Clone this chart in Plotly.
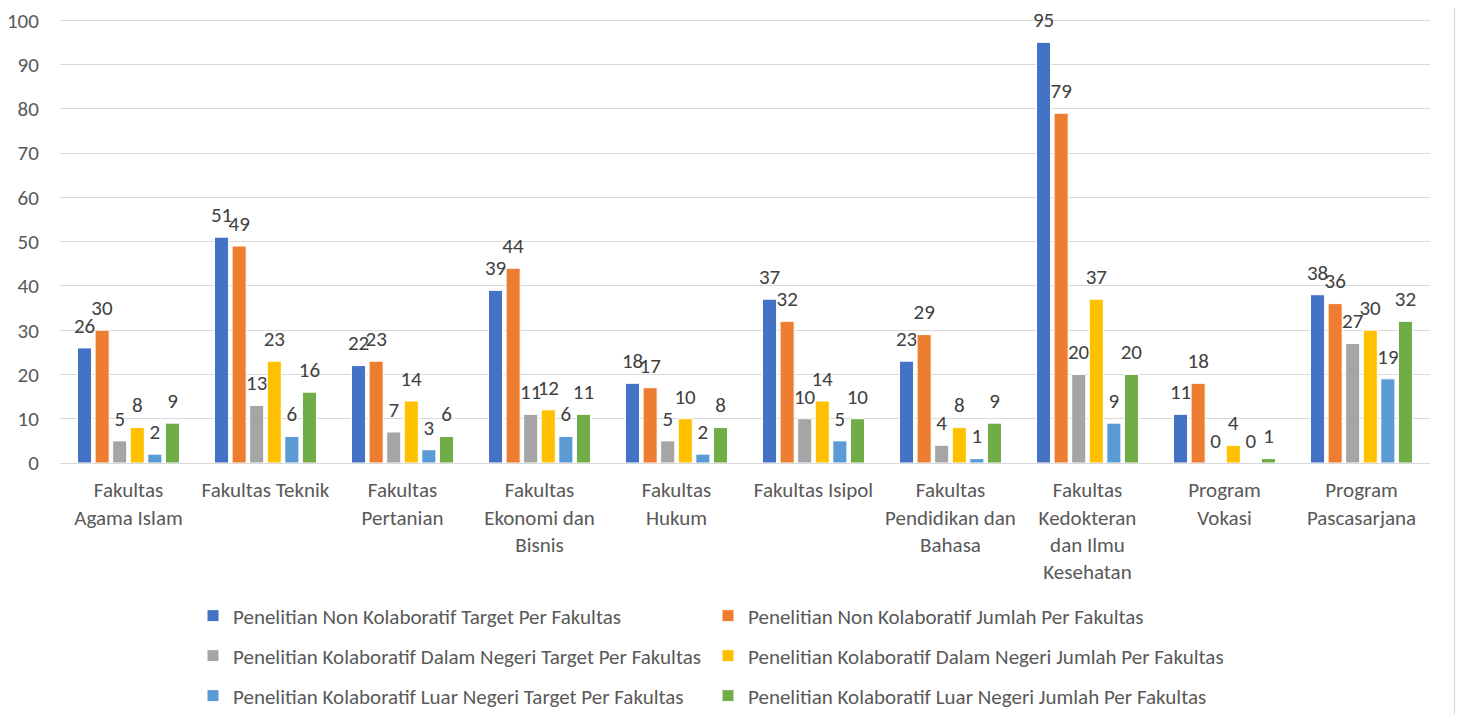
import plotly.graph_objects as go

categories = [
    "Fakultas<br>Agama Islam", "Fakultas Teknik", "Fakultas<br>Pertanian",
    "Fakultas<br>Ekonomi dan<br>Bisnis", "Fakultas<br>Hukum", "Fakultas Isipol",
    "Fakultas<br>Pendidikan dan<br>Bahasa", "Fakultas<br>Kedokteran<br>dan Ilmu<br>Kesehatan",
    "Program<br>Vokasi", "Program<br>Pascasarjana",
]

non_kolab_target = [26, 51, 22, 39, 18, 37, 23, 95, 11, 38]
non_kolab_jumlah = [30, 49, 23, 44, 17, 32, 29, 79, 18, 36]
dn_target = [5, 13, 7, 11, 5, 10, 4, 20, 0, 27]
dn_jumlah = [8, 23, 14, 12, 10, 14, 8, 37, 4, 30]
ln_target = [2, 6, 3, 6, 2, 5, 1, 9, 0, 19]
ln_jumlah = [9, 16, 6, 11, 8, 10, 9, 20, 1, 32]

series = [
    ("Penelitian Non Kolaboratif Target Per Fakultas", non_kolab_target, "#4472C4"),
    ("Penelitian Non Kolaboratif Jumlah Per Fakultas", non_kolab_jumlah, "#ED7D31"),
    ("Penelitian Kolaboratif Dalam Negeri Target Per Fakultas", dn_target, "#A5A5A5"),
    ("Penelitian Kolaboratif Dalam Negeri Jumlah Per Fakultas", dn_jumlah, "#FFC000"),
    ("Penelitian Kolaboratif Luar Negeri Target Per Fakultas", ln_target, "#5B9BD5"),
    ("Penelitian Kolaboratif Luar Negeri Jumlah Per Fakultas", ln_jumlah, "#70AD47"),
]

FONT = "Carlito, Calibri, Liberation Sans, sans-serif"
FS = 21
LABEL_GAP = 1.4  # extra space (in axis units) between bar end and its label

fig = go.Figure()
legend_ids = ["legend", "legend", "legend2", "legend2", "legend3", "legend3"]
for i, ((name, vals, color), lg) in enumerate(zip(series, legend_ids)):
    fig.add_trace(go.Bar(
        x=categories, y=vals, name=name, legend=lg, offsetgroup=str(i),
        marker=dict(color=color, line=dict(color="white", width=1)),
    ))
    # invisible bar sitting on top of each bar, only to carry the data label
    fig.add_trace(go.Bar(
        x=categories, y=[LABEL_GAP] * len(vals), base=vals, offsetgroup=str(i),
        marker=dict(color="rgba(0,0,0,0)", line=dict(width=0)),
        text=vals, textposition="outside", constraintext="none",
        textfont=dict(size=FS, color="#404040", family=FONT),
        cliponaxis=False, showlegend=False, hoverinfo="skip",
    ))

def legend_at(ypix):
    return dict(
        orientation="h", xref="container", yref="container",
        x=185 / 1463, xanchor="left", y=1 - ypix / 715, yanchor="middle",
        entrywidth=470, entrywidthmode="pixels",
        font=dict(size=FS, color="#595959", family=FONT), itemwidth=30,
        bgcolor="rgba(0,0,0,0)",
    )

fig.update_layout(
    width=1463, height=715,
    margin=dict(l=52, r=41, t=10, b=260, autoexpand=False),
    paper_bgcolor="white", plot_bgcolor="white",
    barmode="group", bargap=0.23, bargroupgap=0.2,
    font=dict(family=FONT, color="#595959", size=FS),
    legend=legend_at(608),
    legend2=legend_at(648),
    legend3=legend_at(688),
    shapes=[
        dict(type="line", xref="paper", yref="paper",
             x0=1.018, x1=1.018, y0=-0.6, y1=1.05,
             line=dict(color="#D9D9D9", width=1.5)),
    ],
)

fig.update_yaxes(
    range=[0, 100.5], tickvals=list(range(0, 101, 10)),
    showgrid=True, gridcolor="#D9D9D9", gridwidth=1,
    zeroline=False, ticks="outside", ticklen=16, tickcolor="rgba(0,0,0,0)",
    tickfont=dict(size=FS, color="#595959"), automargin=False,
    ticklabeloverflow="allow",
)
fig.update_xaxes(
    showline=True, linecolor="#D9D9D9", linewidth=1, tickangle=0,
    ticks="outside", ticklen=8, tickcolor="rgba(0,0,0,0)",
    tickfont=dict(size=FS, color="#595959"), automargin=False,
    ticklabeloverflow="allow",
)

fig.write_html("out.html")
